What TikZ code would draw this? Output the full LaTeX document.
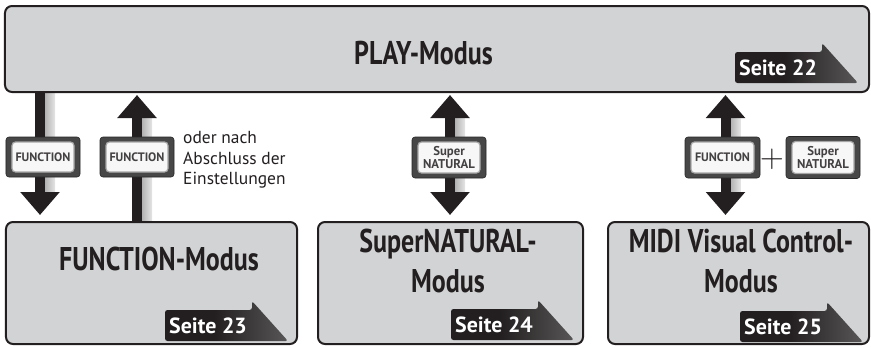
\documentclass[tikz,border=0pt]{standalone}
\usepackage{fontspec}
\setmainfont{PT Sans}
\newfontfamily\condfont[FakeStretch=0.79]{PT Sans}
\newfontfamily\plusfont{Latin Modern Roman}
\usetikzlibrary{arrows.meta,backgrounds}
\definecolor{boxgray}{HTML}{D1D3D4}
\definecolor{ink}{HTML}{231F20}
\pgfdeclarehorizontalshading{badgeshade}{100bp}{color(0bp)=(ink); color(45bp)=(ink); color(100bp)=(black!48)}
\pgfdeclarehorizontalshading{shaftshadow}{100bp}{color(0bp)=(black!40); color(100bp)=(white)}
\tikzset{
  modebox/.style={draw=ink, line width=2bp, fill=boxgray, rounded corners=7bp, inner sep=0pt, outer sep=0pt},
  modelabel/.style={font=\condfont\bfseries\fontsize{33}{40}\selectfont, text=ink, inner sep=0pt, anchor=base},
  fatline/.style={draw=ink, line width=10bp},
  onehead/.style={fatline, -{Triangle[width=38bp,length=23bp]}},
  twohead/.style={fatline, {Triangle[width=38bp,length=23bp]}-{Triangle[width=38bp,length=23bp]}},
  shaftshade/.style={shading=shaftshadow},
  btnouter/.style={fill=black!72, draw=black!85, line width=0.6bp, rounded corners=3bp, inner sep=0pt},
  btninner/.style={fill=white!97!black, draw=black!35, line width=1.2bp, rounded corners=3.5bp, inner sep=0pt, align=center, font=\bfseries\fontsize{12.3}{12.5}\selectfont, text=ink!85},
  snlabel/.style={font=\bfseries\fontsize{12.8}{13.2}\selectfont},
  badgetext/.style={anchor=base west, font=\bfseries\fontsize{22}{24}\selectfont, text=white, inner sep=0pt},
  notetext/.style={anchor=north west, align=left, inner sep=0pt, font=\fontsize{17.5}{20.5}\selectfont, text=ink}
}
\newcommand\seitebadge[4]{%
  \shade[shading=badgeshade, rounded corners=2.5bp] (#2,#3) -- (#2,#3-31) -- (#2+87,#3-31) -- (#2+87,#3-40) -- (#2+123,#3) -- cycle;
  \node[badgetext] (#1) at (#2+4,#3-8) {#4};}
\newcommand\modebutton[9]{%
  \node[btnouter, minimum width=#4bp, minimum height=#5bp] (#1) at (#2,#3) {};
  \node[btninner, #9, minimum width=#6bp, minimum height=#7bp] (#1-in) at (#2,#3) {#8};}
\begin{document}
\begin{tikzpicture}[x=1bp,y=-1bp]
\useasboundingbox (0,0) rectangle (871,347);
% mode boxes
\node[modebox, minimum width=864bp, minimum height=86bp] (play) at (437,49) {};
\node[modebox, minimum width=291bp, minimum height=122bp] (fmode) at (151.5,283) {};
\node[modebox, minimum width=265bp, minimum height=122bp] (smode) at (450.5,283) {};
\node[modebox, minimum width=261bp, minimum height=122bp] (mmode) at (738.5,283) {};
% labels
\node[modelabel] (playlbl) at (423.5,64) {PLAY-Modus};
\node[modelabel] (fmodelbl) at (159,270) {FUNCTION-Modus};
\node[modelabel] (smodelbla) at (448,252) {SuperNATURAL-};
\node[modelabel] (smodelblb) at (448,292) {Modus};
\node[modelabel] (mmodelbla) at (741,252) {MIDI Visual Control-};
\node[modelabel] (mmodelblb) at (741,292) {Modus};
% badges
\seitebadge{s22}{735}{83}{Seite 22}
\seitebadge{s23}{165}{341}{Seite 23}
\seitebadge{s24}{451}{340}{Seite 24}
\seitebadge{s25}{740}{342}{Seite 25}
% arrow columns
\coordinate (c1) at (40,0);
\coordinate (c2) at (137,0);
\coordinate (c3) at (450,0);
\coordinate (c4) at (725.5,0);
\begin{scope}[on background layer]
  \shade[shaftshade] (45,93) rectangle (55,195);
  \shade[shaftshade] (142,118) rectangle (152,221);
  \shade[shaftshade] (455,118) rectangle (465,195);
  \shade[shaftshade] (730.5,118) rectangle (740.5,195);
  \draw[onehead, shorten >=7bp] (play.south -| c1) -- (fmode.north -| c1);
  \draw[onehead, shorten >=3bp] (fmode.north -| c2) -- (play.south -| c2);
  \draw[twohead, shorten <=3bp, shorten >=7bp] (play.south -| c3) -- (smode.north -| c3);
  \draw[twohead, shorten <=3bp, shorten >=7bp] (play.south -| c4) -- (mmode.north -| c4);
\end{scope}
% buttons
\modebutton{b1}{43}{157}{74}{40}{62}{30}{FUNCTION}{}
\modebutton{b2}{137}{157}{74}{40}{62}{30}{FUNCTION}{}
\modebutton{b3}{449}{157.5}{74}{41}{62}{31}{Super\\NATURAL}{snlabel}
\modebutton{b4}{722.5}{157.5}{75}{41}{63}{31}{FUNCTION}{}
\modebutton{b5}{823}{157.5}{74}{42}{62}{32}{Super\\NATURAL}{snlabel}
\node[inner sep=0pt, font=\plusfont\fontsize{33}{33}\selectfont, text=ink] (plus) at (772,159) {+};
\node[notetext] (note) at (183,131.5) {oder nach\\Abschluss der\\Einstellungen};
\end{tikzpicture}
\end{document}
